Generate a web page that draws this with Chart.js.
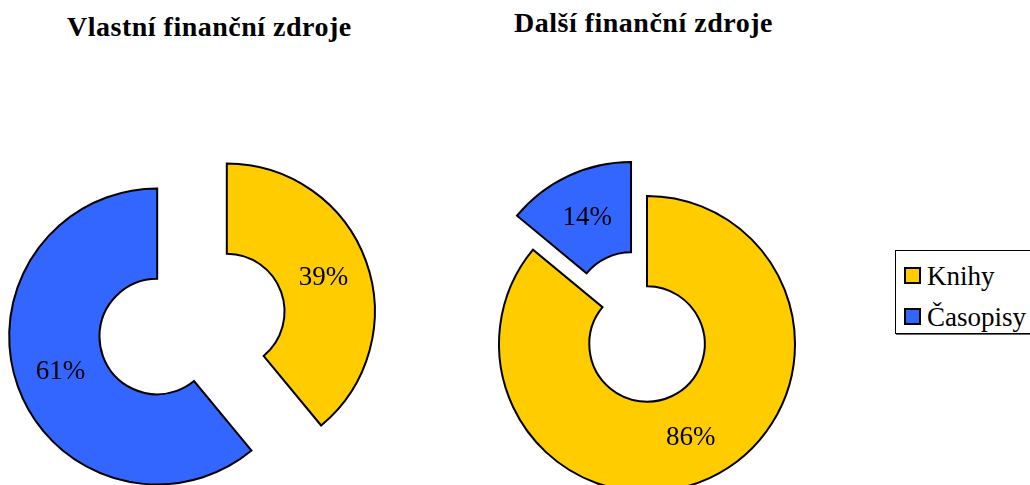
<!DOCTYPE html>
<html lang="cs">
<head>
<meta charset="utf-8">
<title>Finanční zdroje</title>
<script src="https://cdn.jsdelivr.net/npm/chart.js@4.4.1/dist/chart.umd.min.js"></script>
<style>
  html, body { margin: 0; padding: 0; background: #fff; }
  body { position: relative; width: 1030px; height: 485px; overflow: hidden; font-family: "Liberation Serif", serif; }
  .title { position: absolute; font-weight: bold; font-size: 28px; line-height: 30px; white-space: nowrap; color: #000; letter-spacing: 0.5px; }
  .chartBox { position: absolute; width: 420px; height: 420px; }
  #legend { position: absolute; left: 895px; top: 250px; width: 150px; height: 82px; border: 1px solid #000; box-shadow: 1px 1px 0 #666; background: #fff; }
  #legend .item { position: absolute; left: 8px; font-size: 27px; line-height: 30px; white-space: nowrap; }
  #legend .swatch { display: inline-block; width: 13px; height: 13px; border: 2px solid #000; margin-right: 6px; vertical-align: 1px; }
</style>
</head>
<body>
<div class="title" style="left:67px; top:12px;">Vlastní finanční zdroje</div>
<div class="title" style="left:514px; top:8px;">Další finanční zdroje</div>
<div class="chartBox" style="left:-18px; top:114px;"><canvas id="vlastni" width="420" height="420"></canvas></div>
<div class="chartBox" style="left:437px; top:134px;"><canvas id="dalsi" width="420" height="420"></canvas></div>
<div id="legend"></div>

<script>
// ============================
// Data
// ============================
const categories = ["Knihy", "Časopisy"];
const vlastniValues = [39, 61];
const dalsiValues = [86, 14];
const sliceColors = ["#FFCC00", "#3366FF"];

// ============================
// Plugin: vysunuté výseče + popisky v %
// ============================
const explodedArcs = {
  id: "explodedArcs",
  beforeDatasetDraw(chart, args, opts) {
    const ctx = chart.ctx;
    const explode = opts.explode || [];
    args.meta.data.forEach((arc, i) => {
      const mid = (arc.startAngle + arc.endAngle) / 2;
      const d = explode[i] || 0;
      ctx.save();
      ctx.translate(Math.cos(mid) * d, Math.sin(mid) * d);
      arc.draw(ctx, chart.chartArea);
      ctx.restore();
    });
    return false;
  },
  afterDatasetsDraw(chart, args, opts) {
    const ctx = chart.ctx;
    const explode = opts.explode || [];
    const values = chart.data.datasets[0].data;
    const total = values.reduce((a, b) => a + b, 0);
    ctx.save();
    ctx.fillStyle = "#000";
    ctx.font = "27px 'Liberation Serif', serif";
    ctx.textAlign = "center";
    ctx.textBaseline = "middle";
    chart.getDatasetMeta(0).data.forEach((arc, i) => {
      const mid = (arc.startAngle + arc.endAngle) / 2;
      const r = (explode[i] || 0) + (arc.innerRadius + arc.outerRadius) / 2;
      const pct = Math.round(values[i] / total * 100) + "%";
      ctx.fillText(pct, arc.x + Math.cos(mid) * r, arc.y + Math.sin(mid) * r + 1);
    });
    ctx.restore();
  }
};

function makeDoughnut(id, values, explode) {
  return new Chart(document.getElementById(id), {
    type: "doughnut",
    data: {
      labels: categories,
      datasets: [{
        data: values,
        backgroundColor: sliceColors,
        borderColor: "#000",
        borderWidth: 2,
        borderJoinStyle: "miter"
      }]
    },
    options: {
      responsive: false,
      animation: false,
      events: [],
      radius: 148,
      cutout: "39%",
      layout: { padding: 0 },
      plugins: {
        legend: { display: false },
        tooltip: { enabled: false },
        explodedArcs: { explode: explode }
      }
    },
    plugins: [explodedArcs]
  });
}

makeDoughnut("vlastni", vlastniValues, [37, 37]);
makeDoughnut("dalsi", dalsiValues, [0, 37.5]);

// ============================
// Legenda
// ============================
const legend = document.getElementById("legend");
categories.forEach((name, i) => {
  const item = document.createElement("div");
  item.className = "item";
  item.style.top = (10 + i * 41) + "px";
  item.innerHTML = '<span class="swatch" style="background:' + sliceColors[i] + '"></span>' + name;
  legend.appendChild(item);
});
</script>
</body>
</html>
